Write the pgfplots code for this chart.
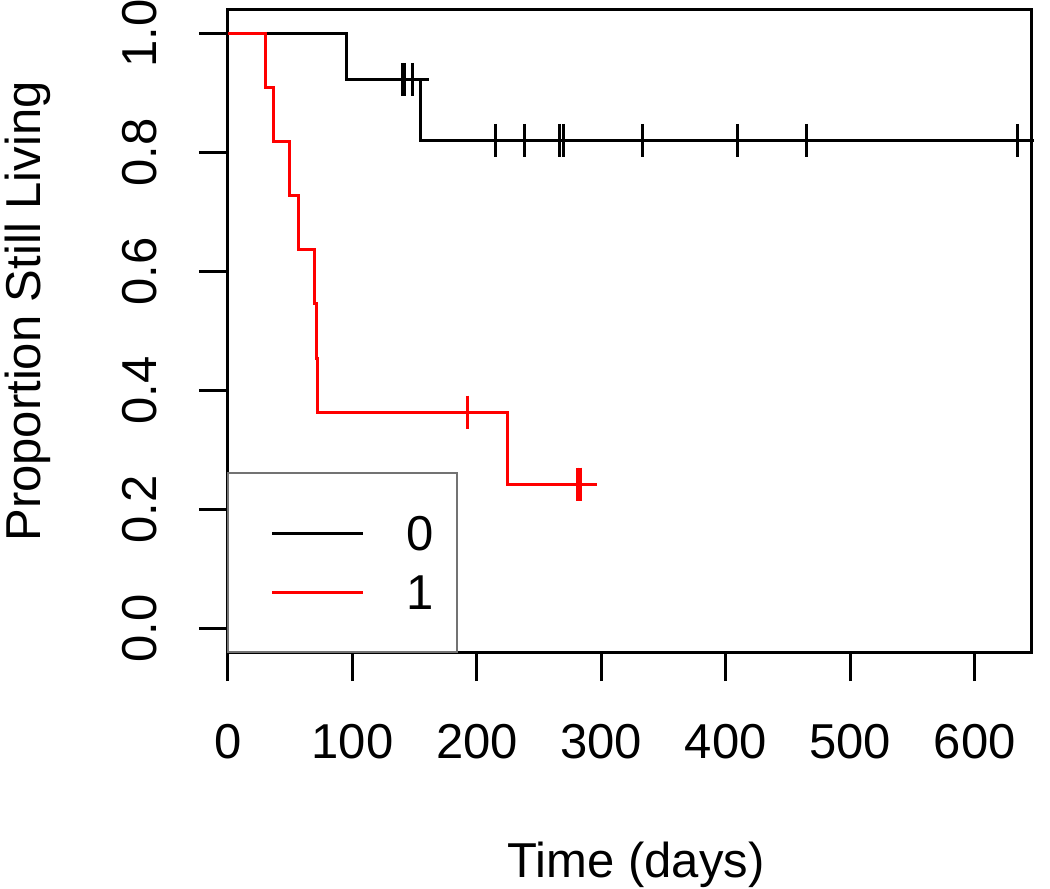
\documentclass[border=0pt]{standalone}
\usepackage{fontspec}
\setmainfont{Liberation Sans}
\usepackage{pgfplots}
\pgfplotsset{compat=1.18}
\begin{document}
\fontsize{24.5}{29}\selectfont
\begin{tikzpicture}
\path[use as bounding box] (-114pt,-118.5pt) rectangle (411pt,326pt);
\begin{axis}[
  at={(0pt,0pt)}, anchor=south west,
  width=402pt, height=321pt, scale only axis,
  xmin=0, xmax=646, ymin=-0.04, ymax=1.04,
  clip=false,
  xtick={0,100,200,300,400,500,600},
  ytick={0,0.2,0.4,0.6,0.8,1},
  yticklabels={0.0,0.2,0.4,0.6,0.8,1.0},
  xtick pos=bottom, ytick pos=left,
  tick align=outside, major tick length=14.5pt,
  every tick/.style={black, line width=1.5pt},
  axis line style={line width=1.5pt},
  /pgf/number format/assume math mode=true,
  tick label style={font=\fontsize{24.5}{29}\selectfont, inner sep=0pt, text depth=0pt},
  xticklabel style={anchor=north},
  yticklabel style={rotate=90, anchor=south},
  xticklabel shift=21.5pt,
  yticklabel shift=21pt,
  xlabel={Time (days)},
  ylabel={Proportion Still Living},
  label style={font=\fontsize{24.5}{29}\selectfont, inner sep=0pt, text depth=0pt},
  xlabel style={at={(axis description cs:0.5075,-0.3505)}, anchor=base},
  ylabel style={at={(axis description cs:-0.2326,0.5304)}, anchor=base},
  legend image code/.code={\draw[#1, mark=none] (0pt,0pt) -- (45.5pt,0pt);},
  legend style={draw=none, fill=none, inner sep=0pt,
    at={(axis description cs:0.15485,0.1394)}, anchor=center,
    row sep=12pt, column sep=21pt,
    nodes={inner sep=0pt, text height=17.5pt, text depth=0pt, anchor=center},
    cells={anchor=center},
    font=\fontsize{24.5}{29}\selectfont},
]
% legend frame
\draw[black!55, line width=1pt] (rel axis cs:0,0) rectangle (rel axis cs:0.2848,0.2783);

% group 0 (black)
\addplot[black, line width=1.5pt, const plot, mark=none] coordinates {
  (0,1) (95,0.9231) (154.4,0.8205) (634.2,0.8205)
};
\addlegendentry{0}
% group 1 (red)
\addplot[red, line width=1.5pt, const plot, mark=none] coordinates {
  (0,1) (30.2,0.9091) (36.6,0.8182) (49.2,0.7273) (57,0.6364)
  (69.3,0.5455) (71.2,0.4545) (72,0.3636) (224.6,0.2424) (282.5,0.2424)
};
\addlegendentry{1}

% censoring marks
\addplot[forget plot, only marks, black, mark=+, mark size=8.25pt, mark options={line width=1.5pt}] coordinates {
  (140.5,0.9231) (142,0.9231) (148.3,0.9231)
  (214.7,0.8205) (238,0.8205) (266.3,0.8205) (269.6,0.8205)
  (333,0.8205) (409.6,0.8205) (464.7,0.8205) (634.2,0.8205)
};
\addplot[forget plot, only marks, red, mark=+, mark size=8.25pt, mark options={line width=1.5pt}] coordinates {
  (192.4,0.3636) (280.6,0.2424) (283,0.2424)
};
\end{axis}
\end{tikzpicture}
\end{document}
